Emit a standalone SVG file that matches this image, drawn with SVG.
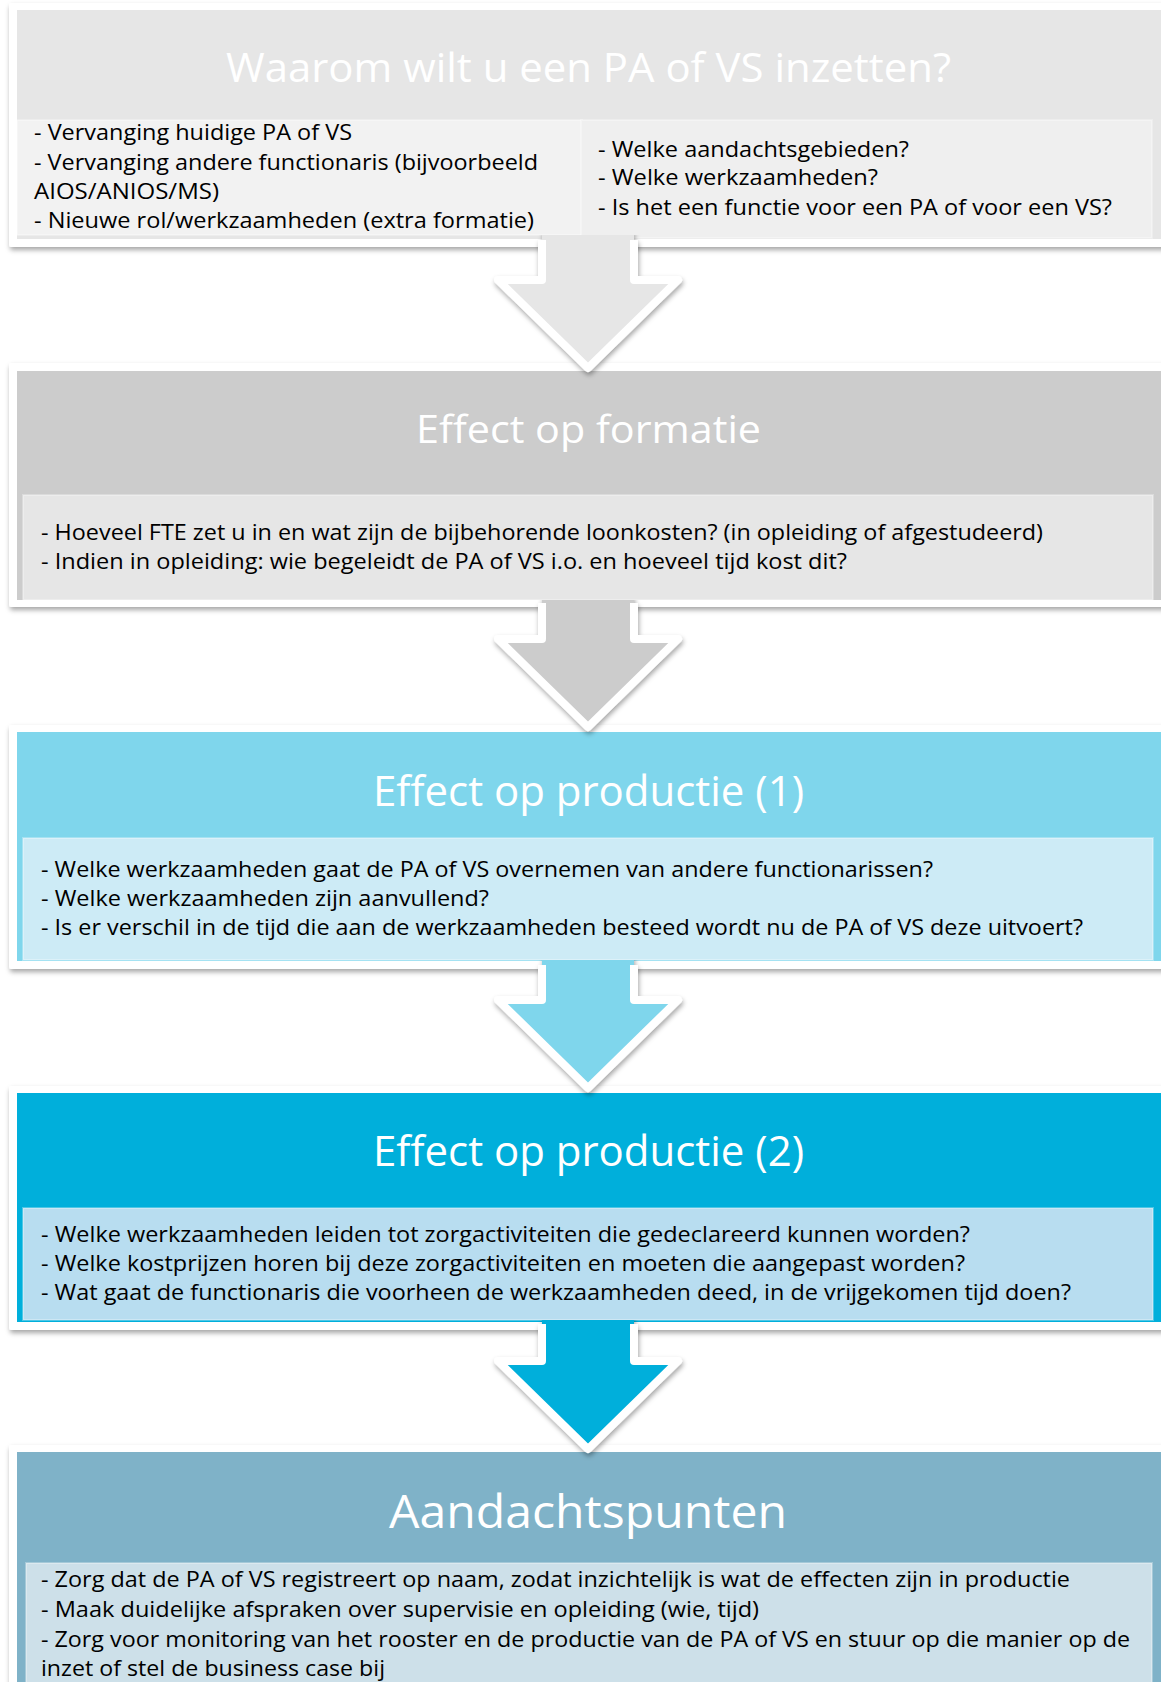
<svg xmlns="http://www.w3.org/2000/svg" width="1161" height="1682" viewBox="0 0 1161 1682">
<defs>
<filter id="sh" x="-5%" y="-10%" width="115%" height="130%">
<feDropShadow dx="1" dy="3" stdDeviation="2.5" flood-color="#000" flood-opacity="0.35"/>
</filter>
<clipPath id="ca1"><rect x="0" y="235" width="1161" height="200"/></clipPath>
<clipPath id="ca2"><rect x="0" y="600" width="1161" height="200"/></clipPath>
<clipPath id="ca3"><rect x="0" y="960" width="1161" height="200"/></clipPath>
<clipPath id="ca4"><rect x="0" y="1320" width="1161" height="200"/></clipPath>
</defs>
<style>
.frame{fill:#ffffff;filter:url(#sh)}
.title{font-family:"Open Sans","Noto Sans","Liberation Sans",sans-serif;font-weight:400;fill:#ffffff;text-anchor:middle}
.body{font-family:"Open Sans","Noto Sans","Liberation Sans",sans-serif;font-size:21px;fill:#000000}
.panel{stroke:#ffffff;stroke-opacity:0.3;stroke-width:2}
.aline{fill:none;stroke:#ffffff;stroke-width:8;stroke-linejoin:round}
</style>
<rect width="1161" height="1682" fill="#ffffff"/>

<g id="box1">
<rect class="frame" x="9" y="3" width="1200" height="244" rx="2"/>
<rect x="17" y="10" width="1200" height="229" fill="#e6e6e6"/>
<text class="title" x="588.5" y="82" font-size="40" textLength="725" lengthAdjust="spacingAndGlyphs">Waarom wilt u een PA of VS inzetten?</text>
<rect class="panel" x="17" y="120" width="565" height="115" fill="#f2f2f2"/>
<rect class="panel" x="581" y="120" width="571" height="118" fill="#efefef"/>
<text class="body" x="34" y="140" textLength="318" lengthAdjust="spacingAndGlyphs">- Vervanging huidige PA of VS</text>
<text class="body" x="34" y="170" textLength="504" lengthAdjust="spacingAndGlyphs">- Vervanging andere functionaris (bijvoorbeeld</text>
<text class="body" x="34" y="199" textLength="185" lengthAdjust="spacingAndGlyphs">AIOS/ANIOS/MS)</text>
<text class="body" x="34" y="228" textLength="500" lengthAdjust="spacingAndGlyphs">- Nieuwe rol/werkzaamheden (extra formatie)</text>
<text class="body" x="598" y="157" textLength="311" lengthAdjust="spacingAndGlyphs">- Welke aandachtsgebieden?</text>
<text class="body" x="598" y="185" textLength="280" lengthAdjust="spacingAndGlyphs">- Welke werkzaamheden?</text>
<text class="body" x="598" y="215" textLength="514" lengthAdjust="spacingAndGlyphs">- Is het een functie voor een PA of voor een VS?</text>
</g>

<g id="box2">
<rect class="frame" x="9" y="363" width="1200" height="244" rx="2"/>
<rect x="17" y="371" width="1200" height="229" fill="#cccccc"/>
<text class="title" x="588.5" y="443" font-size="39" textLength="345" lengthAdjust="spacingAndGlyphs">Effect op formatie</text>
<rect class="panel" x="23" y="495" width="1130" height="105" fill="#e6e6e6"/>
<text class="body" x="41" y="540" textLength="1002" lengthAdjust="spacingAndGlyphs">- Hoeveel FTE zet u in en wat zijn de bijbehorende loonkosten? (in opleiding of afgestudeerd)</text>
<text class="body" x="41" y="569" textLength="806" lengthAdjust="spacingAndGlyphs">- Indien in opleiding: wie begeleidt de PA of VS i.o. en hoeveel tijd kost dit?</text>
</g>

<g id="box3">
<rect class="frame" x="9" y="725" width="1200" height="244" rx="2"/>
<rect x="17" y="732" width="1200" height="229" fill="#7fd6ec"/>
<text class="title" x="588.5" y="806" font-size="42" textLength="431" lengthAdjust="spacingAndGlyphs">Effect op productie (1)</text>
<rect class="panel" x="23" y="838" width="1130" height="122" fill="#cdebf6"/>
<text class="body" x="41" y="877" textLength="892" lengthAdjust="spacingAndGlyphs">- Welke werkzaamheden gaat de PA of VS overnemen van andere functionarissen?</text>
<text class="body" x="41" y="906" textLength="448" lengthAdjust="spacingAndGlyphs">- Welke werkzaamheden zijn aanvullend?</text>
<text class="body" x="41" y="935" textLength="1042" lengthAdjust="spacingAndGlyphs">- Is er verschil in de tijd die aan de werkzaamheden besteed wordt nu de PA of VS deze uitvoert?</text>
</g>

<g id="box4">
<rect class="frame" x="9" y="1086" width="1200" height="244" rx="2"/>
<rect x="17" y="1093" width="1200" height="229" fill="#00afdb"/>
<text class="title" x="588.5" y="1166" font-size="42" textLength="431" lengthAdjust="spacingAndGlyphs">Effect op productie (2)</text>
<rect class="panel" x="23" y="1208" width="1130" height="112" fill="#b8ddf0"/>
<text class="body" x="41" y="1242" textLength="929" lengthAdjust="spacingAndGlyphs">- Welke werkzaamheden leiden tot zorgactiviteiten die gedeclareerd kunnen worden?</text>
<text class="body" x="41" y="1271" textLength="924" lengthAdjust="spacingAndGlyphs">- Welke kostprijzen horen bij deze zorgactiviteiten en moeten die aangepast worden?</text>
<text class="body" x="41" y="1300" textLength="1030" lengthAdjust="spacingAndGlyphs">- Wat gaat de functionaris die voorheen de werkzaamheden deed, in de vrijgekomen tijd doen?</text>
</g>

<g id="box5">
<rect class="frame" x="9" y="1445" width="1200" height="260" rx="2"/>
<rect x="17" y="1452" width="1200" height="260" fill="#7fb2c8"/>
<text class="title" x="588" y="1528" font-size="46" textLength="398" lengthAdjust="spacingAndGlyphs">Aandachtspunten</text>
<rect class="panel" x="26" y="1563" width="1126" height="130" fill="#cde0e9"/>
<text class="body" x="41" y="1587" textLength="1029" lengthAdjust="spacingAndGlyphs">- Zorg dat de PA of VS registreert op naam, zodat inzichtelijk is wat de effecten zijn in productie</text>
<text class="body" x="41" y="1617" textLength="718" lengthAdjust="spacingAndGlyphs">- Maak duidelijke afspraken over supervisie en opleiding (wie, tijd)</text>
<text class="body" x="41" y="1647" textLength="1089" lengthAdjust="spacingAndGlyphs">- Zorg voor monitoring van het rooster en de productie van de PA of VS en stuur op die manier op de</text>
<text class="body" x="41" y="1676" textLength="344" lengthAdjust="spacingAndGlyphs">inzet of stel de business case bij</text>
</g>

<g id="connectors">
<g id="arrow1" clip-path="url(#ca1)">
<g filter="url(#sh)">
<polygon points="542,230 542,280 498,280 588,368 678,280 634,280 634,230" fill="#e6e6e6"/>
<polyline class="aline" points="542,240 542,280 498,280 588,368 678,280 634,280 634,240"/>
</g>
</g>
<g id="arrow2" clip-path="url(#ca2)">
<g filter="url(#sh)">
<polygon points="542,595 542,639 498,639 588,727 678,639 634,639 634,595" fill="#cccccc"/>
<polyline class="aline" points="542,603 542,639 498,639 588,727 678,639 634,639 634,603"/>
</g>
</g>
<g id="arrow3" clip-path="url(#ca3)">
<g filter="url(#sh)">
<polygon points="542,955 542,1000 498,1000 588,1088 678,1000 634,1000 634,955" fill="#7fd6ec"/>
<polyline class="aline" points="542,965 542,1000 498,1000 588,1088 678,1000 634,1000 634,965"/>
</g>
</g>
<g id="arrow4" clip-path="url(#ca4)">
<g filter="url(#sh)">
<polygon points="542,1315 542,1361 498,1361 588,1449 678,1361 634,1361 634,1315" fill="#00afdb"/>
<polyline class="aline" points="542,1324 542,1361 498,1361 588,1449 678,1361 634,1361 634,1324"/>
</g>
</g>
</g>
</svg>
